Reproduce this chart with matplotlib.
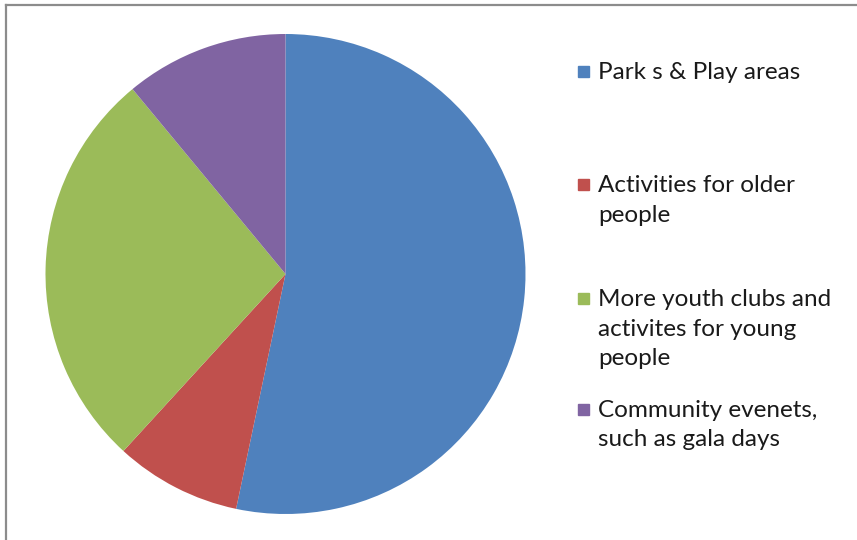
import matplotlib.pyplot as plt
from matplotlib.lines import Line2D
from matplotlib.patches import Rectangle

# survey answers, share of responses (%)
labels = [
    "Park s & Play areas",
    "Activities for older\npeople",
    "More youth clubs and\nactivites for young\npeople",
    "Community evenets,\nsuch as gala days",
]
shares = [53.3, 8.5, 27.2, 11.0]
colors = ["#4F81BD", "#C0504D", "#9BBB59", "#8064A2"]

W, H = 857, 540
fig = plt.figure(figsize=(W / 100, H / 100), dpi=100)

# pie: centre (285.5, 274) px, radius 240 px
cx, cy, r = 285.5, 274, 240
ax = fig.add_axes([(cx - r) / W, (H - cy - r) / H, 2 * r / W, 2 * r / H])
ax.pie(shares, colors=colors, startangle=90, counterclock=False,
       radius=1, wedgeprops=dict(linewidth=0))
ax.set_xlim(-1, 1)
ax.set_ylim(-1, 1)
ax.set_aspect("auto")
ax.axis("off")

# legend entries, y of first line centre (px from top)
legend_y = [72, 185, 299, 410]
for lab, col, y in zip(labels, colors, legend_y):
    fig.patches.append(Rectangle((578 / W, (H - y - 5) / H), 11 / W, 11 / H,
                                 color=col, transform=fig.transFigure))
    fig.text(598 / W, (H - y + 10) / H, lab, fontsize=17.5, family="Lato",
             va="top", ha="left", color="#1a1a1a", linespacing=1.5)

# frame on top and left
fig.add_artist(Line2D([6 / W, 1], [1 - 5 / H, 1 - 5 / H], color="#8c8c8c",
                      lw=1.6, transform=fig.transFigure))
fig.add_artist(Line2D([6 / W, 6 / W], [0, 1 - 5 / H], color="#8c8c8c",
                      lw=1.6, transform=fig.transFigure))

fig.savefig("out.png", dpi=100)
